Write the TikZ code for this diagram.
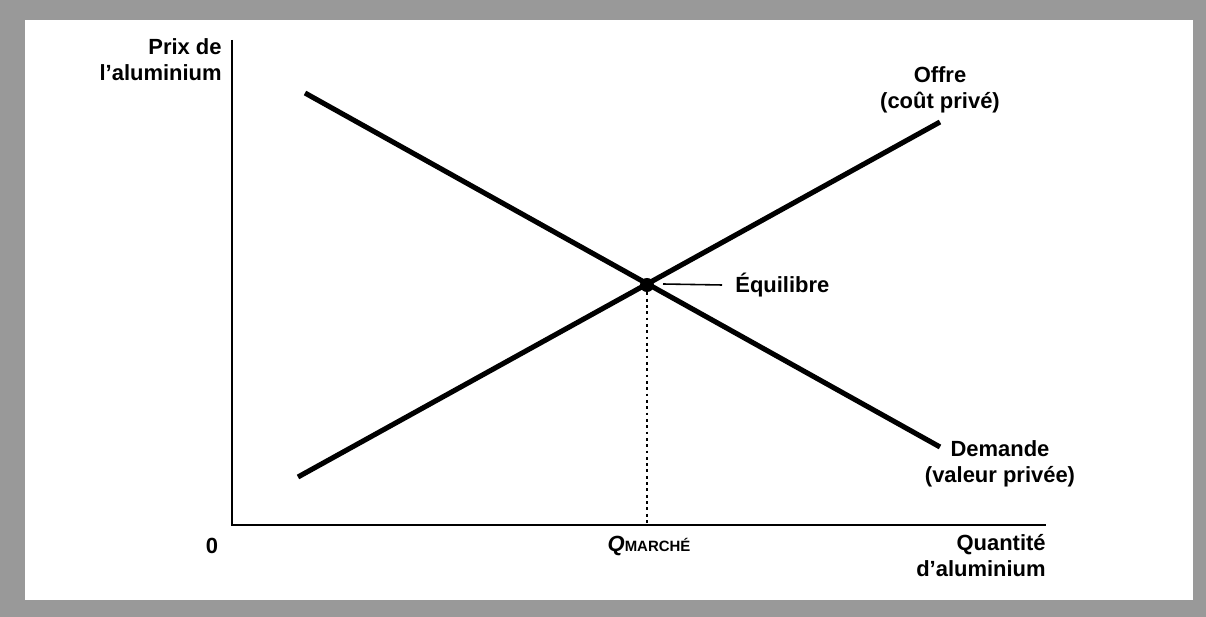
\documentclass[tikz,border=0pt]{standalone}
\usepackage{fontspec}
\setmainfont{Liberation Sans}
\begin{document}
\begin{tikzpicture}[x=0.02cm,y=-0.02cm,
  courbe/.style={line width=2.9pt},
  axe/.style={line width=1.1pt},
  etiq/.style={font=\fontsize{12.5}{15}\selectfont\bfseries,align=center,inner sep=0pt}]
% page scannee
\fill[black!40] (0,0) rectangle (1206,617);
\fill[white] (25,20) rectangle (1193,600);
\useasboundingbox (0,0) rectangle (1206,617);
% axes
\coordinate (O) at (232,525);
\coordinate (ytop) at (232,40);
\coordinate (xend) at (1046,525);
\draw[axe] (ytop) -- (O) -- (xend);
\node[etiq,align=right,anchor=north east] (prix) at (222,38) {Prix de\\l'aluminium};
\node[etiq,anchor=center] (zero) at (212,546) {0};
\node[etiq,align=right,anchor=north east] (qte) at (1046,534) {Quantité\\d'aluminium};
% courbes
\coordinate (d1) at (305,93);
\coordinate (d2) at (940,447);
\coordinate (o1) at (298,477);
\coordinate (o2) at (940,122);
\draw[courbe] (d1) -- (d2);
\draw[courbe] (o1) -- (o2);
\node[etiq] (offre) at (940,90) {Offre\\(coût privé)};
\node[etiq] (demande) at (1000,464) {Demande\\(valeur privée)};
% equilibre
\node[circle,fill,inner sep=0pt,minimum size=8pt] (eq) at (647,285) {};
\coordinate (qm) at (647,525);
\draw[line width=1.6pt,dotted] (eq) -- (qm);
\node[etiq,anchor=west] (equil) at (735,285) {Équilibre};
\draw[line width=0.9pt] (663,284) -- (equil.west -| 722,0);
\node[etiq] (qmarche) at (649,546) {\textit{Q}{\fontsize{8.5}{10}\selectfont MARCHÉ}};
\end{tikzpicture}
\end{document}
